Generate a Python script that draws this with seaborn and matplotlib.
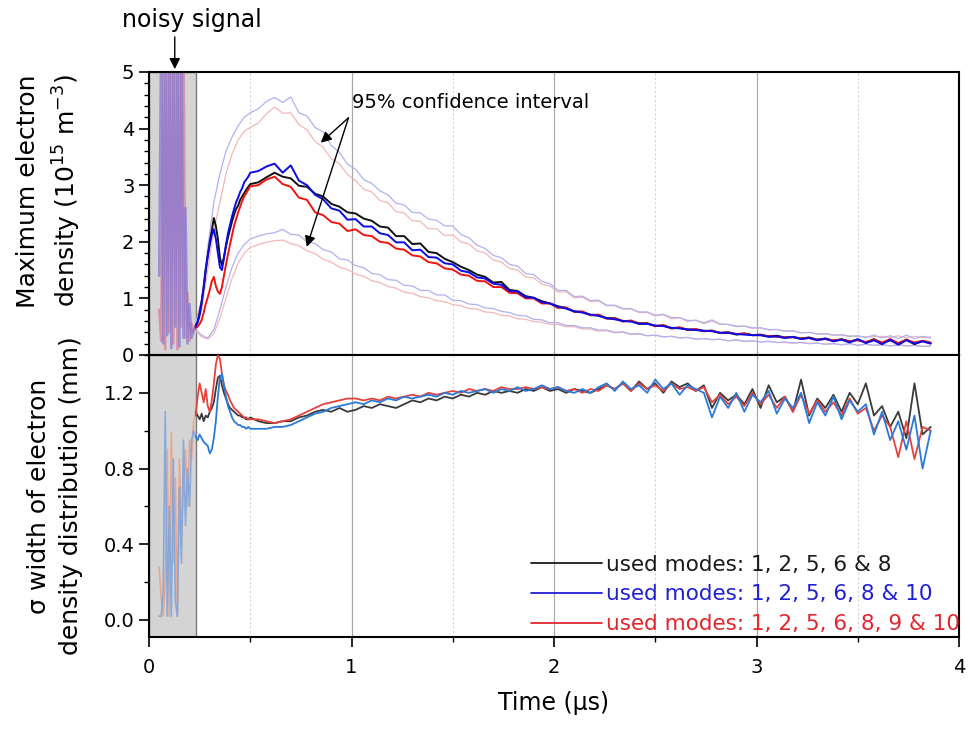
import numpy as np
import pandas as pd
import matplotlib
matplotlib.use("Agg")
import matplotlib.pyplot as plt
import seaborn as sns
from matplotlib.ticker import MultipleLocator, FormatStrFormatter
from matplotlib.lines import Line2D

# ---------------- data ----------------
t_noise = [0.05, 0.06, 0.07, 0.08, 0.09, 0.10, 0.11, 0.12, 0.13, 0.14, 0.15, 0.16,
           0.17, 0.18, 0.19, 0.20, 0.21, 0.22]
t_early = [0.23, 0.24, 0.25, 0.26, 0.27, 0.28, 0.29, 0.30, 0.31, 0.32, 0.33, 0.34,
           0.35, 0.36, 0.37, 0.38, 0.39, 0.40, 0.41, 0.42, 0.43, 0.44, 0.45, 0.46,
           0.47, 0.48, 0.49, 0.50]
t_late = [0.54, 0.58, 0.62, 0.66, 0.70, 0.74, 0.78, 0.82, 0.86, 0.90, 0.94, 0.98,
          1.02, 1.06, 1.10, 1.14, 1.18, 1.22, 1.26, 1.30, 1.34, 1.38, 1.42, 1.46,
          1.50, 1.54, 1.58, 1.62, 1.66, 1.70, 1.74, 1.78, 1.82, 1.86, 1.90, 1.94,
          1.98, 2.02, 2.06, 2.10, 2.14, 2.18, 2.22, 2.26, 2.30, 2.34, 2.38, 2.42,
          2.46, 2.50, 2.54, 2.58, 2.62, 2.66, 2.70, 2.74, 2.78, 2.82, 2.86, 2.90,
          2.94, 2.98, 3.02, 3.06, 3.10, 3.14, 3.18, 3.22, 3.26, 3.30, 3.34, 3.38,
          3.42, 3.46, 3.50, 3.54, 3.58, 3.62, 3.66, 3.70, 3.74, 3.78, 3.82, 3.86]
t_ci_early = [0.23, 0.26, 0.29, 0.32, 0.35, 0.38, 0.41, 0.44, 0.47, 0.50]

# top panel: maximum electron density (1e15 m^-3)
dens_black = [0.52, 0.58, 0.75, 0.95, 1.20, 1.50, 1.75, 2.00, 2.20, 2.42, 2.28, 2.05,
              1.72, 1.58, 1.72, 1.92, 2.08, 2.22, 2.36, 2.48, 2.58, 2.64, 2.74, 2.80,
              2.86, 2.92, 2.97, 3.02,
              3.05, 3.14, 3.22, 3.15, 3.12, 2.99, 2.97, 2.85, 2.80, 2.67, 2.62, 2.52,
              2.50, 2.41, 2.37, 2.27, 2.25, 2.10, 2.10, 1.96, 1.97, 1.82, 1.80, 1.70,
              1.64, 1.56, 1.50, 1.42, 1.38, 1.28, 1.29, 1.15, 1.13, 1.04, 1.01, 0.95,
              0.91, 0.86, 0.83, 0.77, 0.76, 0.71, 0.71, 0.65, 0.65, 0.60, 0.60, 0.56,
              0.56, 0.51, 0.52, 0.47, 0.48, 0.45, 0.45, 0.42, 0.43, 0.39, 0.40, 0.36,
              0.38, 0.35, 0.36, 0.33, 0.34, 0.31, 0.32, 0.29, 0.31, 0.27, 0.29, 0.25,
              0.28, 0.24, 0.27, 0.22, 0.28, 0.21, 0.26, 0.20, 0.27, 0.19, 0.25, 0.21]
dens_blue = [0.50, 0.58, 0.70, 0.92, 1.20, 1.50, 1.75, 1.95, 2.12, 2.22, 2.05, 1.80,
             1.55, 1.50, 1.72, 1.95, 2.15, 2.30, 2.45, 2.58, 2.70, 2.78, 2.88, 2.95,
             3.05, 3.10, 3.15, 3.22,
             3.25, 3.33, 3.38, 3.22, 3.35, 3.08, 3.00, 2.83, 2.75, 2.59, 2.55, 2.39,
             2.40, 2.27, 2.27, 2.15, 2.12, 1.99, 1.99, 1.85, 1.86, 1.73, 1.72, 1.62,
             1.60, 1.49, 1.46, 1.37, 1.35, 1.26, 1.24, 1.13, 1.12, 1.02, 1.01, 0.93,
             0.91, 0.85, 0.82, 0.77, 0.75, 0.71, 0.69, 0.65, 0.63, 0.60, 0.59, 0.55,
             0.55, 0.52, 0.51, 0.48, 0.47, 0.45, 0.44, 0.43, 0.42, 0.39, 0.39, 0.37,
             0.36, 0.35, 0.35, 0.32, 0.33, 0.30, 0.32, 0.28, 0.30, 0.26, 0.29, 0.24,
             0.27, 0.22, 0.28, 0.21, 0.26, 0.19, 0.27, 0.18, 0.26, 0.20, 0.24, 0.20]
dens_red = [0.48, 0.50, 0.55, 0.62, 0.75, 0.90, 1.02, 1.15, 1.30, 1.38, 1.22, 1.12,
            1.08, 1.20, 1.40, 1.60, 1.78, 1.95, 2.12, 2.28, 2.40, 2.52, 2.62, 2.72,
            2.80, 2.86, 2.92, 2.98,
            3.00, 3.10, 3.15, 3.02, 2.97, 2.78, 2.74, 2.52, 2.47, 2.35, 2.32, 2.19,
            2.22, 2.12, 2.10, 2.00, 1.98, 1.88, 1.86, 1.76, 1.74, 1.64, 1.62, 1.53,
            1.51, 1.42, 1.40, 1.31, 1.30, 1.20, 1.20, 1.10, 1.09, 1.00, 1.00, 0.91,
            0.91, 0.83, 0.84, 0.76, 0.77, 0.70, 0.71, 0.64, 0.65, 0.59, 0.61, 0.55,
            0.56, 0.51, 0.53, 0.47, 0.49, 0.44, 0.46, 0.42, 0.43, 0.39, 0.40, 0.37,
            0.38, 0.35, 0.35, 0.33, 0.32, 0.31, 0.31, 0.29, 0.30, 0.27, 0.28, 0.26,
            0.27, 0.24, 0.26, 0.23, 0.27, 0.22, 0.28, 0.21, 0.27, 0.22, 0.25, 0.22]

ci_blue_up = [0.55, 1.00, 1.90, 2.70, 3.20, 3.60, 3.85, 4.05, 4.20, 4.28,
              4.35, 4.48, 4.55, 4.46, 4.56, 4.28, 4.22, 4.02, 3.94, 3.70, 3.58, 3.37,
              3.28, 3.10, 3.03, 2.90, 2.83, 2.68, 2.65, 2.52, 2.51, 2.40, 2.38, 2.28,
              2.28, 2.13, 2.07, 1.94, 1.88, 1.76, 1.72, 1.60, 1.57, 1.44, 1.42, 1.30,
              1.26, 1.14, 1.14, 1.03, 1.04, 0.96, 0.97, 0.88, 0.88, 0.82, 0.82, 0.76,
              0.76, 0.70, 0.72, 0.66, 0.66, 0.61, 0.61, 0.57, 0.62, 0.55, 0.54, 0.51,
              0.51, 0.48, 0.48, 0.45, 0.45, 0.42, 0.43, 0.39, 0.40, 0.37, 0.38, 0.35,
              0.36, 0.33, 0.34, 0.31, 0.35, 0.30, 0.34, 0.29, 0.35, 0.29, 0.33, 0.30]
ci_red_up = [0.50, 0.80, 1.50, 2.20, 2.70, 3.20, 3.55, 3.80, 3.95, 4.02,
             4.10, 4.26, 4.38, 4.27, 4.28, 4.07, 3.98, 3.77, 3.67, 3.47, 3.38, 3.19,
             3.08, 2.93, 2.88, 2.73, 2.69, 2.53, 2.51, 2.37, 2.36, 2.23, 2.23, 2.11,
             2.12, 2.00, 1.96, 1.84, 1.80, 1.68, 1.64, 1.53, 1.50, 1.38, 1.36, 1.25,
             1.22, 1.11, 1.12, 1.01, 1.02, 0.94, 0.95, 0.87, 0.87, 0.81, 0.81, 0.75,
             0.75, 0.69, 0.71, 0.64, 0.66, 0.59, 0.62, 0.55, 0.60, 0.54, 0.54, 0.50,
             0.51, 0.47, 0.48, 0.44, 0.45, 0.42, 0.42, 0.39, 0.40, 0.37, 0.37, 0.35,
             0.35, 0.33, 0.33, 0.32, 0.32, 0.33, 0.31, 0.34, 0.30, 0.33, 0.31, 0.32]
ci_blue_lo = [0.45, 0.35, 0.30, 0.45, 0.80, 1.20, 1.55, 1.80, 1.95, 2.05,
              2.10, 2.14, 2.16, 2.22, 2.13, 2.12, 2.00, 1.97, 1.86, 1.82, 1.70, 1.68,
              1.58, 1.54, 1.44, 1.42, 1.33, 1.32, 1.23, 1.22, 1.14, 1.14, 1.06, 1.06,
              0.97, 0.96, 0.90, 0.89, 0.83, 0.82, 0.77, 0.75, 0.70, 0.69, 0.63, 0.62,
              0.57, 0.57, 0.52, 0.52, 0.48, 0.48, 0.44, 0.44, 0.40, 0.41, 0.37, 0.38,
              0.34, 0.35, 0.32, 0.33, 0.30, 0.31, 0.28, 0.29, 0.27, 0.28, 0.25, 0.27,
              0.24, 0.25, 0.23, 0.24, 0.22, 0.23, 0.21, 0.22, 0.20, 0.21, 0.19, 0.20,
              0.18, 0.20, 0.17, 0.19, 0.17, 0.18, 0.16, 0.18, 0.16, 0.17, 0.15, 0.16]
ci_red_lo = [0.42, 0.32, 0.28, 0.38, 0.65, 1.00, 1.35, 1.62, 1.80, 1.90,
             1.95, 1.99, 2.02, 2.03, 1.97, 1.93, 1.84, 1.79, 1.69, 1.64, 1.55, 1.51,
             1.43, 1.39, 1.31, 1.28, 1.21, 1.18, 1.11, 1.09, 1.03, 1.01, 0.96, 0.94,
             0.89, 0.87, 0.82, 0.81, 0.76, 0.75, 0.70, 0.69, 0.64, 0.63, 0.59, 0.58,
             0.54, 0.54, 0.50, 0.50, 0.46, 0.46, 0.42, 0.43, 0.39, 0.40, 0.36, 0.37,
             0.34, 0.35, 0.32, 0.33, 0.30, 0.31, 0.28, 0.29, 0.27, 0.28, 0.25, 0.26,
             0.24, 0.25, 0.23, 0.24, 0.22, 0.22, 0.21, 0.22, 0.20, 0.21, 0.19, 0.20,
             0.18, 0.20, 0.17, 0.19, 0.17, 0.18, 0.16, 0.18, 0.16, 0.17, 0.15, 0.16]

dens_noise_blue = [1.40, 5.8, 0.20, 5.8, 0.35, 5.8, 0.12, 5.8, 0.50, 5.8, 0.15, 5.8,
                   0.30, 2.60, 0.20, 0.90, 0.30, 0.45]
dens_noise_red = [0.80, 0.25, 5.8, 0.10, 5.8, 0.40, 5.8, 0.20, 5.8, 0.10, 5.8, 0.50,
                  5.8, 0.30, 1.10, 0.25, 0.55, 0.40]

# bottom panel: sigma width (mm)
sig_black = [1.10, 1.08, 1.06, 1.09, 1.05, 1.08, 1.07, 1.10, 1.12, 1.15, 1.22, 1.28,
             1.29, 1.24, 1.20, 1.17, 1.14, 1.12, 1.11, 1.10, 1.09, 1.08, 1.08, 1.07,
             1.07, 1.06, 1.06, 1.07,
             1.05, 1.04, 1.04, 1.05, 1.05, 1.07, 1.08, 1.10, 1.11, 1.10, 1.12, 1.10,
             1.11, 1.13, 1.12, 1.14, 1.13, 1.12, 1.14, 1.16, 1.15, 1.17, 1.16, 1.18,
             1.17, 1.19, 1.18, 1.20, 1.19, 1.21, 1.20, 1.21, 1.20, 1.22, 1.21, 1.23,
             1.21, 1.22, 1.20, 1.22, 1.21, 1.20, 1.22, 1.24, 1.22, 1.25, 1.21, 1.26,
             1.22, 1.25, 1.20, 1.26, 1.23, 1.25, 1.21, 1.24, 1.12, 1.20, 1.16, 1.19,
             1.14, 1.22, 1.12, 1.24, 1.15, 1.18, 1.10, 1.27, 1.08, 1.17, 1.12, 1.19,
             1.10, 1.20, 1.14, 1.25, 1.08, 1.13, 1.02, 1.10, 0.96, 1.25, 0.98, 1.02]
sig_blue = [0.97, 0.95, 0.98, 0.96, 0.94, 0.93, 0.92, 0.88, 0.90, 0.96, 1.05, 1.18,
            1.28, 1.30, 1.24, 1.18, 1.13, 1.10, 1.07, 1.05, 1.04, 1.03, 1.03, 1.02,
            1.02, 1.01, 1.02, 1.01,
            1.01, 1.01, 1.02, 1.02, 1.03, 1.05, 1.07, 1.09, 1.10, 1.12, 1.13, 1.14,
            1.15, 1.14, 1.16, 1.15, 1.17, 1.16, 1.18, 1.17, 1.18, 1.19, 1.18, 1.20,
            1.19, 1.21, 1.20, 1.21, 1.22, 1.20, 1.22, 1.21, 1.23, 1.21, 1.22, 1.24,
            1.22, 1.23, 1.21, 1.20, 1.22, 1.20, 1.23, 1.25, 1.21, 1.26, 1.22, 1.24,
            1.20, 1.27, 1.22, 1.25, 1.19, 1.24, 1.22, 1.20, 1.07, 1.18, 1.12, 1.20,
            1.10, 1.19, 1.15, 1.21, 1.09, 1.17, 1.12, 1.20, 1.04, 1.15, 1.08, 1.18,
            1.06, 1.16, 1.10, 1.14, 0.98, 1.10, 0.95, 1.05, 0.90, 1.08, 0.80, 1.00]
sig_red = [1.08, 1.18, 1.25, 1.20, 1.15, 1.22, 1.13, 1.10, 1.16, 1.25, 1.35, 1.40,
           1.38, 1.30, 1.24, 1.21, 1.19, 1.16, 1.14, 1.12, 1.11, 1.10, 1.09, 1.08,
           1.07, 1.07, 1.06, 1.06,
           1.06, 1.05, 1.04, 1.05, 1.06, 1.08, 1.10, 1.12, 1.14, 1.15, 1.16, 1.17,
           1.17, 1.16, 1.17, 1.16, 1.18, 1.17, 1.18, 1.19, 1.18, 1.20, 1.19, 1.20,
           1.21, 1.20, 1.22, 1.21, 1.22, 1.21, 1.23, 1.22, 1.22, 1.23, 1.22, 1.23,
           1.22, 1.23, 1.21, 1.22, 1.20, 1.22, 1.21, 1.24, 1.22, 1.25, 1.21, 1.25,
           1.22, 1.24, 1.21, 1.25, 1.22, 1.23, 1.21, 1.23, 1.15, 1.19, 1.14, 1.18,
           1.13, 1.20, 1.14, 1.19, 1.12, 1.18, 1.10, 1.19, 1.09, 1.16, 1.10, 1.15,
           1.08, 1.17, 1.09, 1.12, 1.00, 1.08, 1.02, 0.86, 1.05, 0.85, 1.02, 1.00]
sig_noise_blue = [0.02, 0.02, 0.15, 1.10, 0.02, 0.60, 0.02, 0.85, 0.10, 0.02, 0.70,
                  0.30, 0.95, 0.50, 0.80, 0.60, 0.95, 1.00]
sig_noise_red = [0.28, 0.12, 0.02, 0.20, 0.90, 0.02, 0.99, 0.30, 0.75, 0.02, 0.85,
                 0.40, 0.70, 0.90, 0.60, 0.95, 0.85, 1.05]

legend_labels = ["used modes: 1, 2, 5, 6 & 8",
                 "used modes: 1, 2, 5, 6, 8 & 10",
                 "used modes: 1, 2, 5, 6, 8, 9 & 10"]

# ---------------- styling ----------------
sns.set_theme(style="ticks")
plt.rcParams["font.family"] = ["DejaVu Sans"]
plt.rcParams["mathtext.fontset"] = "dejavusans"
plt.rcParams["text.color"] = "black"
plt.rcParams["axes.labelcolor"] = "black"

BLACK = "#111111"
BLUE_T = "#0a0ae6"
RED_T = "#f21212"
BLACK_B = "#3a3a3a"
BLUE_B = "#2a7ad8"
RED_B = "#e8413c"
CI_BLUE = "#b0b0f2"
CI_RED = "#f4b6b6"

fig = plt.figure(figsize=(9.69, 7.42), dpi=100)
ax1 = fig.add_axes([0.1538, 0.5216, 0.8359, 0.3814])
ax2 = fig.add_axes([0.1538, 0.1415, 0.8359, 0.3801], sharex=ax1)

t_main = t_early + t_late
t_ci = t_ci_early + t_late


def draw(ax, t, y, color, lw, alpha=1.0, z=3):
    sns.lineplot(x=t, y=y, ax=ax, color=color, linewidth=lw, alpha=alpha,
                 sort=False, estimator=None, errorbar=None, legend=False, zorder=z)


for ax in (ax1, ax2):
    ax.axvspan(0, 0.23, facecolor="#d4d4d4", edgecolor="#7a7a7a", linewidth=1.0, zorder=0)
    for g in (1, 2, 3):
        ax.axvline(g, color="#a8a8a8", linewidth=0.9, zorder=1)
    for g in (0.5, 1.5, 2.5, 3.5):
        ax.axvline(g, color="#d2d2d2", linewidth=0.8, linestyle=(0, (2, 2)), zorder=1)

# top panel
draw(ax1, t_ci, ci_red_up, CI_RED, 0.9, z=2)
draw(ax1, t_ci, ci_blue_up, CI_BLUE, 0.9, z=2)
draw(ax1, t_ci, ci_red_lo, CI_RED, 0.9, z=2)
draw(ax1, t_ci, ci_blue_lo, CI_BLUE, 0.9, z=2)
draw(ax1, t_noise + [0.23], dens_noise_red + [dens_red[0]], "#e07a8a", 1.8, alpha=0.7, z=2)
draw(ax1, t_noise + [0.23], dens_noise_blue + [dens_blue[0]], "#7e76d8", 1.8, alpha=0.7, z=2)
draw(ax1, t_main, dens_black, BLACK, 1.4)
draw(ax1, t_main, dens_red, RED_T, 1.4)
draw(ax1, t_main, dens_blue, BLUE_T, 1.4)

# bottom panel
draw(ax2, t_noise + [0.23], sig_noise_red + [sig_red[0]], "#eaa488", 1.2, alpha=0.9, z=2)
draw(ax2, t_noise + [0.23], sig_noise_blue + [sig_blue[0]], "#7fa6dc", 1.2, alpha=0.9, z=2)
draw(ax2, t_main, sig_black, BLACK_B, 1.3)
draw(ax2, t_main, sig_red, RED_B, 1.3)
draw(ax2, t_main, sig_blue, BLUE_B, 1.3)

ax1.set_xlim(0, 4)
ax1.set_ylim(0, 5)
ax2.set_ylim(-0.09, 1.40)

ax1.yaxis.set_major_locator(MultipleLocator(1))
ax1.yaxis.set_minor_locator(MultipleLocator(0.2))
ax2.yaxis.set_major_locator(MultipleLocator(0.4))
ax2.yaxis.set_minor_locator(MultipleLocator(0.2))
ax2.yaxis.set_major_formatter(FormatStrFormatter("%.1f"))
ax2.xaxis.set_major_locator(MultipleLocator(1))
ax2.xaxis.set_minor_locator(MultipleLocator(0.5))

for ax in (ax1, ax2):
    for s in ax.spines.values():
        s.set_visible(True)
        s.set_color("black")
        s.set_linewidth(1.5)
    ax.tick_params(which="major", direction="out", length=7, width=1.2,
                   labelsize=14, color="black", labelcolor="black")
    ax.tick_params(which="minor", direction="out", length=3.5, width=1.0, color="black")
    ax.set_xlabel("")
    ax.set_ylabel("")
    ax.grid(False)

ax1.tick_params(axis="x", which="both", bottom=False, labelbottom=False)
ax2.tick_params(axis="x", which="major", pad=8)

ax1.set_ylabel("Maximum electron\ndensity (10$^{15}$ m$^{-3}$)", fontsize=18, linespacing=1.4)
ax1.yaxis.set_label_coords(-0.082, 0.58)
ax2.set_ylabel("σ width of electron\ndensity distribution (mm)", fontsize=18, linespacing=1.4)
ax2.yaxis.set_label_coords(-0.082, 0.50)
ax2.set_xlabel("Time (µs)", fontsize=17, labelpad=10)

# annotations
ax1.text(1.0, 4.36, "95% confidence interval", fontsize=14, ha="left", va="baseline", zorder=5)
arrow_kw = dict(arrowstyle="-|>", color="black", lw=1.0, mutation_scale=16,
                shrinkA=0, shrinkB=0)
ax1.annotate("", xy=(0.848, 3.75), xytext=(0.985, 4.19), arrowprops=arrow_kw, zorder=5)
ax1.annotate("", xy=(0.779, 1.91), xytext=(0.985, 4.19), arrowprops=arrow_kw, zorder=5)
ax1.annotate("", xy=(0.127, 5.05), xytext=(0.127, 5.62), arrowprops=arrow_kw,
             annotation_clip=False, zorder=5)
fig.text(192 / 969, 1 - 27 / 742, "noisy signal", fontsize=17, ha="center", va="baseline")

# legend
leg_colors = ["#1a1a1a", "#2020d2", "#e2262e"]
handles = [Line2D([0], [0], color=c, linewidth=1.3) for c in leg_colors]
leg = ax2.legend(handles, legend_labels, loc="lower right", bbox_to_anchor=(1.006, -0.005),
                 frameon=False, fontsize=15.5, handlelength=3.3, handletextpad=0.15,
                 labelspacing=0.45, borderaxespad=0.0, borderpad=0.2)
for txt, c in zip(leg.get_texts(), leg_colors):
    txt.set_color(c)

fig.savefig("out.png", dpi=100)
